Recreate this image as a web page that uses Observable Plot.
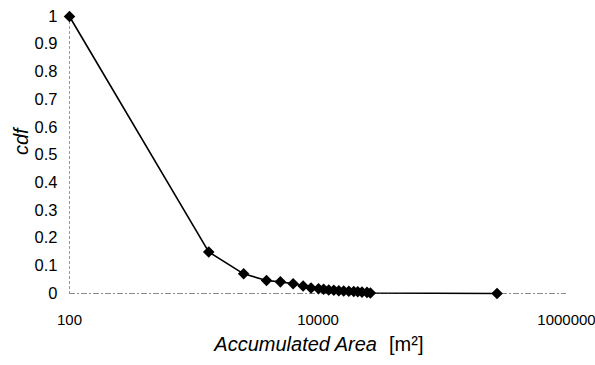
<!DOCTYPE html>
<html>
<head>
<meta charset="utf-8">
<script src="https://cdn.jsdelivr.net/npm/d3@7"></script>
<script src="https://cdn.jsdelivr.net/npm/@observablehq/plot@0.6"></script>
<style>
  html, body { margin: 0; padding: 0; background: #fff; }
  #chart { width: 595px; height: 365px; }
</style>
</head>
<body>
<div id="chart"></div>
<script>
const area = [100, 1320, 2520, 3850, 4980, 6310, 7590, 8790, 10100, 11100, 12200, 13400, 14700, 16100, 17700, 19400, 20900, 22600, 24800, 26400, 276000];
const cdf  = [1, 0.150, 0.071, 0.047, 0.042, 0.035, 0.027, 0.020, 0.017, 0.015, 0.013, 0.012, 0.010, 0.009, 0.008, 0.007, 0.006, 0.005, 0.004, 0.002, 0];
const xTicks = [100, 10000, 1000000];
const yTicks = [0, 0.1, 0.2, 0.3, 0.4, 0.5, 0.6, 0.7, 0.8, 0.9, 1];
const xLabel = "Accumulated Area";
const xUnit = "[m²]";
const yLabel = "cdf";

const data = area.map((a, i) => ({area: a, cdf: cdf[i]}));
const font = "'Liberation Sans', Arial, Helvetica, sans-serif";

const chart = Plot.plot({
  width: 595,
  height: 365,
  marginLeft: 69,
  marginRight: 29,
  marginTop: 16,
  marginBottom: 72,
  style: {fontFamily: font, fontSize: "16.5px", color: "#000", background: "#fff"},
  x: {type: "log", domain: [100, 1000000]},
  y: {domain: [0, 1]},
  marks: [
    Plot.ruleX([100], {stroke: "#9a9a9a", strokeWidth: 1, strokeDasharray: "3,2"}),
    Plot.ruleY([0], {x1: 100, x2: 1000000, stroke: "#8a8a8a", strokeWidth: 1, strokeDasharray: "6,2,2,2"}),
    Plot.axisY({ticks: yTicks, tickSize: 0, tickPadding: 12, fontSize: 16.5, tickFormat: d => String(+d.toFixed(1)), label: null}),
    Plot.axisX({ticks: xTicks, tickSize: 0, tickPadding: 21, fontSize: 15, tickFormat: d => String(d), label: null}),
    Plot.line(data, {x: "area", y: "cdf", stroke: "#000", strokeWidth: 1.6}),
    Plot.dot(data, {x: "area", y: "cdf", symbol: "diamond2", r: 5.2, fill: "#000", stroke: "none"}),
    Plot.text([yLabel], {frameAnchor: "left", dx: -48, rotate: -90, fontSize: 20, fontStyle: "italic", fill: "#000"}),
    Plot.text([xLabel], {frameAnchor: "bottom", dx: 59, dy: 57, textAnchor: "end", fontSize: 20, fontStyle: "italic", fill: "#000", style: "letter-spacing:0.4px"}),
    Plot.text([xUnit], {frameAnchor: "bottom", dx: 71, dy: 57, textAnchor: "start", fontSize: 20, fill: "#000", style: "letter-spacing:2px"})
  ]
});
document.getElementById("chart").appendChild(chart);
</script>
</body>
</html>
